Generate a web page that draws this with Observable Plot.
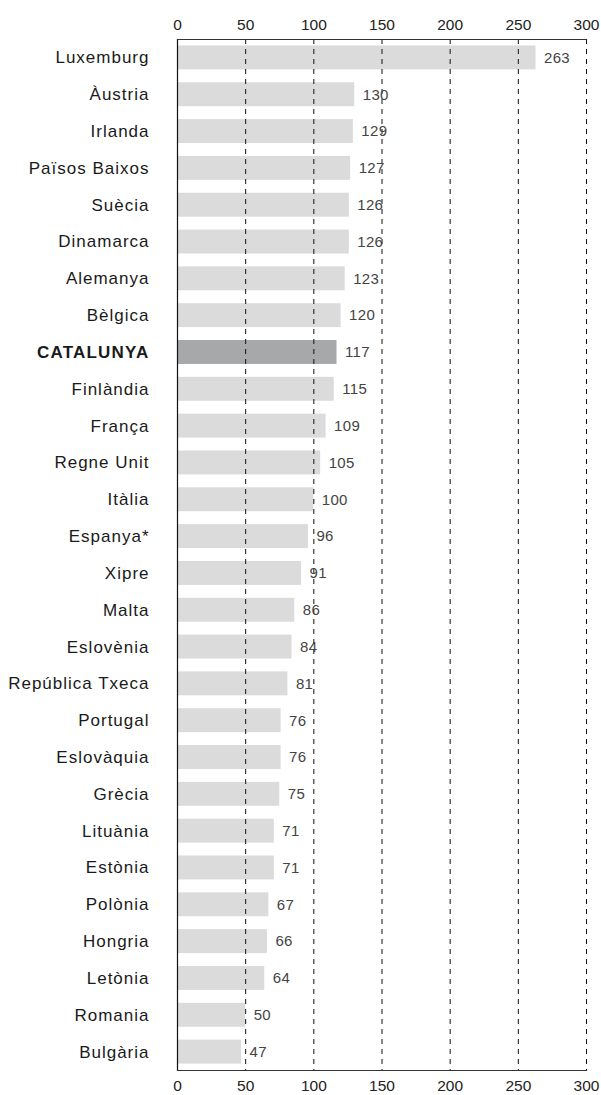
<!DOCTYPE html>
<html>
<head>
<meta charset="utf-8">
<script src="https://cdn.jsdelivr.net/npm/d3@7"></script>
<script src="https://cdn.jsdelivr.net/npm/@observablehq/plot@0.6"></script>
<style>
  html, body { margin: 0; padding: 0; background: #fff; }
  #chart svg { display: block; }
  #chart .ylab text { letter-spacing: 1px; }
  #chart .ylabhl text { letter-spacing: 1.2px; }
  #chart .vlab text { letter-spacing: 0.3px; }
</style>
</head>
<body>
<div id="chart"></div>
<script>
const countries = ["Luxemburg","Àustria","Irlanda","Països Baixos","Suècia","Dinamarca","Alemanya","Bèlgica","CATALUNYA","Finlàndia","França","Regne Unit","Itàlia","Espanya*","Xipre","Malta","Eslovènia","República Txeca","Portugal","Eslovàquia","Grècia","Lituània","Estònia","Polònia","Hongria","Letònia","Romania","Bulgària"];
const values = [263,130,129,127,126,126,123,120,117,115,109,105,100,96,91,86,84,81,76,76,75,71,71,67,66,64,50,47];
const highlight = "CATALUNYA";
const xTicks = [0,50,100,150,200,250,300];
const gridTicks = [50,100,150,200,250,300];

const data = countries.map((c, i) => ({country: c, value: values[i], hl: c === highlight}));

const font = "'Liberation Sans', Arial, Helvetica, sans-serif";

const chart = Plot.plot({
  width: 601,
  height: 1095,
  marginLeft: 177,
  marginRight: 15,
  marginTop: 39,
  marginBottom: 25,
  style: {fontFamily: font, fontSize: "15px", color: "#222", background: "#fff"},
  x: {domain: [0, 300], ticks: xTicks},
  y: {domain: countries, paddingInner: 0.35, paddingOuter: 0.175, round: false, axis: null},
  marks: [
    Plot.barX(data, {y: "country", x: "value", fill: d => d.hl ? "#a7a8aa" : "#dbdbdc"}),
    Plot.ruleX(gridTicks, {stroke: "#111", strokeWidth: 1, strokeDasharray: "5,5"}),
    Plot.ruleX([0], {stroke: "#111", strokeWidth: 1.2}),
    Plot.frame({anchor: "top", stroke: "#333", strokeWidth: 1.2}),
    Plot.frame({anchor: "bottom", stroke: "#333", strokeWidth: 1.2}),
    Plot.axisX({anchor: "top", ticks: xTicks, tickSize: 0, tickPadding: 10, label: null, fontSize: 15.5, fill: "#222"}),
    Plot.axisX({anchor: "bottom", ticks: xTicks, tickSize: 0, tickPadding: 9, label: null, fontSize: 15.5, fill: "#222"}),
    Plot.text(data.filter(d => !d.hl), {y: "country", text: "country", frameAnchor: "left", dx: -28, textAnchor: "end", fontSize: 17, fill: "#1a1a1a", className: "ylab"}),
    Plot.text(data.filter(d => d.hl), {y: "country", text: "country", frameAnchor: "left", dx: -28, textAnchor: "end", fontSize: 17, fontWeight: "bold", fill: "#1a1a1a", className: "ylabhl"}),
    Plot.text(data, {y: "country", x: "value", text: d => String(d.value), dx: 8, textAnchor: "start", fontSize: 15, fill: "#444", className: "vlab"})
  ]
});
document.getElementById("chart").appendChild(chart);
</script>
</body>
</html>
